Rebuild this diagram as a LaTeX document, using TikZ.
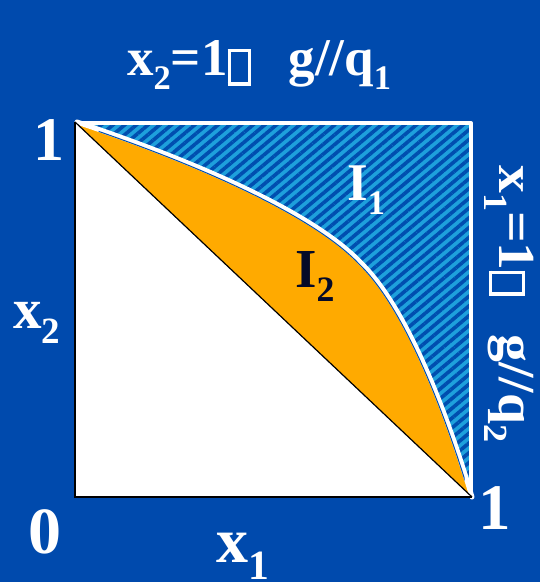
\documentclass[tikz,border=0pt]{standalone}
\usepackage{fontspec}
\setmainfont{Liberation Serif}
\usetikzlibrary{patterns.meta}
\definecolor{bgblue}{RGB}{0,74,173}
\definecolor{lightstripe}{RGB}{30,160,220}
\definecolor{darkstripe}{RGB}{0,78,175}
\definecolor{orangefill}{RGB}{255,170,0}
\definecolor{navy}{RGB}{5,10,40}
\newcommand\sbs[1]{\raisebox{-0.27em}{\scalebox{0.65}{#1}}}
\newcommand\tofu{\raisebox{-0.14em}{\setlength\fboxrule{0.06em}\setlength\fboxsep{0pt}\fbox{\rule{0pt}{0.58em}\hspace{0.33em}}}}
\newcommand\bound{(77,122) .. controls (250,180) and (330,230) .. (360,262) .. controls (400,300) and (440,390) .. (472,497)}
\begin{document}
\begin{tikzpicture}[x=1pt,y=-1pt,
  lab/.style={text=white,font=\bfseries,inner sep=0pt,anchor=base west},
  fs/.style={font=\bfseries\fontsize{#1}{#1}\selectfont}]
\useasboundingbox (0,0) rectangle (540,582);
\fill[bgblue] (0,0) rectangle (540,582);
\coordinate (TL) at (75,122);
\coordinate (BL) at (75,497);
\coordinate (BR) at (472,497);
\coordinate (TR) at (471,123);
\fill[white] (TL) rectangle (BR);
% orange lens
\fill[orangefill] (BR) -- (TL) -- \bound -- cycle;
% hatched region
\fill[lightstripe] \bound -- (TR) -- cycle;
\fill[pattern={Lines[angle=40,distance=7.5pt,line width=3.6pt]},pattern color=darkstripe]
  \bound -- (TR) -- cycle;
% white boundary with thin blue line
\draw[white,line width=5pt,line join=round,line cap=round] \bound;
\begin{scope}[shift={(-1.5,1.5)}]
\clip (100,100) rectangle (466,480);
\draw[darkstripe,line width=1pt] \bound;
\end{scope}
\draw[white,line width=4pt,line cap=round,line join=round] (80,123) -- (TR) -- (471,490);
% black lines
\draw[black,line width=1.2pt] (TL) -- (BR);
\draw[black,line width=1.6pt] (TL) -- (BL) -- (BR);
% labels
\node[lab,fs=53] (i1) at (347,200) {I\sbs{1}};
\node[lab,fs=55,text=navy] (i2) at (295,287) {I\sbs{2}};
\node[lab,fs=53] (top) at (127,75) {x\sbs{2}=1\tofu\hspace{0.7em}g//q\sbs{1}};
\node[lab,fs=52,rotate=-90] (right) at (499,165) {\scalebox{1.07}[1]{x\sbs{1}=1\tofu\hspace{0.7em}g//q\sbs{2}}};
\node[lab,fs=62] (one1) at (33,160) {1};
\node[lab,fs=57] (x2) at (13,328) {x\sbs{2}};
\node[lab,fs=66] (zero) at (28,553) {0};
\node[lab,fs=65] (one2) at (478,529) {1};
\node[lab,fs=64] (x1) at (216,562) {x\sbs{1}};
\end{tikzpicture}
\end{document}
